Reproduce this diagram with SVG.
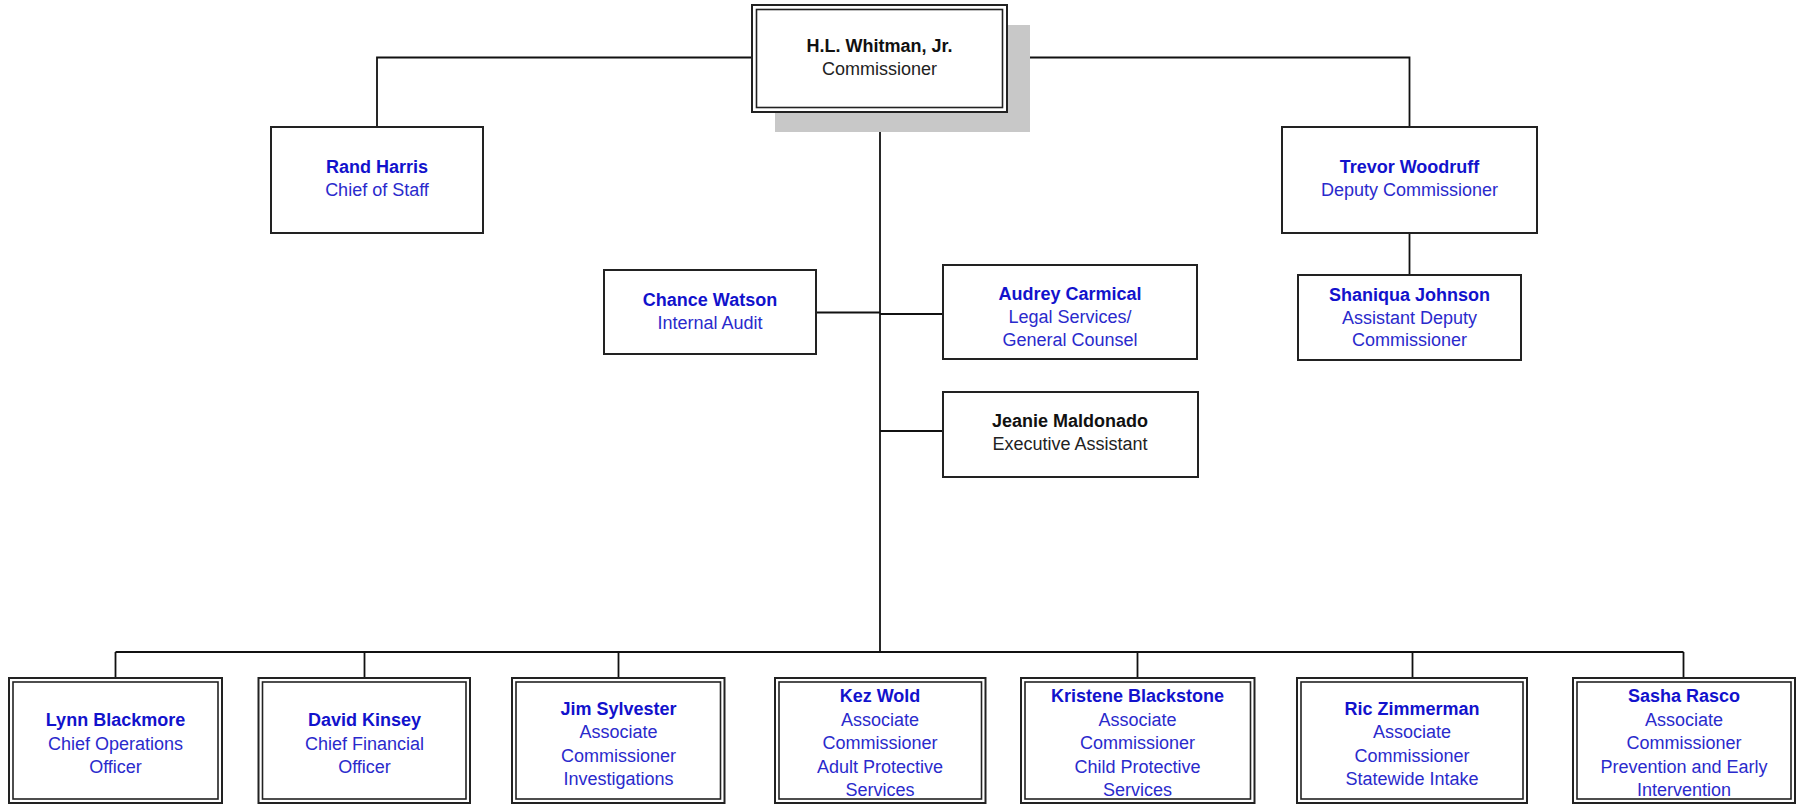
<svg xmlns="http://www.w3.org/2000/svg" width="1799" height="804" viewBox="0 0 1799 804">
<style>
  .box { fill: #ffffff; stroke: #222222; stroke-width: 2; }
  .dbl { fill: none; stroke: #222222; stroke-width: 1.6; }
  .conn { fill: none; stroke: #111111; stroke-width: 1.8; }
  text { font-family: "Liberation Sans", Arial, sans-serif; font-size: 18px; text-anchor: middle; }
  .nm { font-weight: bold; fill: #1212cc; }
  .tt { fill: #2a2acc; }
  .nmk { font-weight: bold; fill: #111111; }
  .ttk { fill: #222222; }
</style>
<rect width="1799" height="804" fill="#ffffff"/>

<g id="connectors">
  <polyline class="conn" points="752,57.5 377,57.5 377,127"/>
  <polyline class="conn" points="1007,57.5 1409.5,57.5 1409.5,127"/>
  <line class="conn" x1="1409.5" y1="233" x2="1409.5" y2="275"/>
  <line class="conn" x1="880" y1="112" x2="880" y2="652"/>
  <line class="conn" x1="816" y1="312.5" x2="880" y2="312.5"/>
  <line class="conn" x1="880" y1="314" x2="943" y2="314"/>
  <line class="conn" x1="880" y1="431" x2="943" y2="431"/>
  <line class="conn" x1="115.5" y1="652" x2="1683.5" y2="652"/>
  <line class="conn" x1="115.5" y1="652" x2="115.5" y2="678"/>
  <line class="conn" x1="364.5" y1="652" x2="364.5" y2="678"/>
  <line class="conn" x1="618.5" y1="652" x2="618.5" y2="678"/>
  <line class="conn" x1="1137.5" y1="652" x2="1137.5" y2="678"/>
  <line class="conn" x1="1412.5" y1="652" x2="1412.5" y2="678"/>
  <line class="conn" x1="1683.5" y1="652" x2="1683.5" y2="678"/>
</g>

<g id="commissioner">
  <rect x="775" y="25" width="255" height="107" fill="#c8c8c8"/>
  <rect class="box" x="752" y="5" width="255" height="107" stroke-width="1.6"/>
  <rect class="dbl" x="756.5" y="9.5" width="246" height="98"/>
  <text class="nmk" x="879.5" y="52">H.L. Whitman, Jr.</text>
  <text class="ttk" x="879.5" y="75">Commissioner</text>
</g>

<g id="rand-harris">
  <rect class="box" x="271" y="127" width="212" height="106"/>
  <text class="nm" x="377" y="173">Rand Harris</text>
  <text class="tt" x="377" y="196">Chief of Staff</text>
</g>

<g id="trevor-woodruff">
  <rect class="box" x="1282" y="127" width="255" height="106"/>
  <text class="nm" x="1409.5" y="173">Trevor Woodruff</text>
  <text class="tt" x="1409.5" y="196">Deputy Commissioner</text>
</g>

<g id="shaniqua-johnson">
  <rect class="box" x="1298" y="275" width="223" height="85"/>
  <text class="nm" x="1409.5" y="300.5">Shaniqua Johnson</text>
  <text class="tt" x="1409.5" y="323.5">Assistant Deputy</text>
  <text class="tt" x="1409.5" y="346">Commissioner</text>
</g>

<g id="chance-watson">
  <rect class="box" x="604" y="270" width="212" height="84"/>
  <text class="nm" x="710" y="306">Chance Watson</text>
  <text class="tt" x="710" y="329">Internal Audit</text>
</g>

<g id="audrey-carmical">
  <rect class="box" x="943" y="265" width="254" height="94"/>
  <text class="nm" x="1070" y="300">Audrey Carmical</text>
  <text class="tt" x="1070" y="323">Legal Services/</text>
  <text class="tt" x="1070" y="346">General Counsel</text>
</g>

<g id="jeanie-maldonado">
  <rect class="box" x="943" y="392" width="255" height="85"/>
  <text class="nmk" x="1070" y="426.5">Jeanie Maldonado</text>
  <text class="ttk" x="1070" y="449.5">Executive Assistant</text>
</g>

<g id="lynn-blackmore">
  <rect class="box" x="9" y="678" width="213" height="125" stroke-width="1.6"/>
  <rect class="dbl" x="13" y="682" width="205" height="117"/>
  <text class="nm" x="115.5" y="726">Lynn Blackmore</text>
  <text class="tt" x="115.5" y="749.5">Chief Operations</text>
  <text class="tt" x="115.5" y="773">Officer</text>
</g>

<g id="david-kinsey">
  <rect class="box" x="258.5" y="678" width="211.5" height="125" stroke-width="1.6"/>
  <rect class="dbl" x="262.5" y="682" width="203.5" height="117"/>
  <text class="nm" x="364.5" y="726">David Kinsey</text>
  <text class="tt" x="364.5" y="749.5">Chief Financial</text>
  <text class="tt" x="364.5" y="773">Officer</text>
</g>

<g id="jim-sylvester">
  <rect class="box" x="512" y="678" width="212.5" height="125" stroke-width="1.6"/>
  <rect class="dbl" x="516" y="682" width="204.5" height="117"/>
  <text class="nm" x="618.5" y="715">Jim Sylvester</text>
  <text class="tt" x="618.5" y="738">Associate</text>
  <text class="tt" x="618.5" y="761.5">Commissioner</text>
  <text class="tt" x="618.5" y="785">Investigations</text>
</g>

<g id="kez-wold">
  <rect class="box" x="775" y="678" width="210.5" height="125" stroke-width="1.6"/>
  <rect class="dbl" x="779" y="682" width="202.5" height="117"/>
  <text class="nm" x="880" y="702">Kez Wold</text>
  <text class="tt" x="880" y="725.5">Associate</text>
  <text class="tt" x="880" y="749">Commissioner</text>
  <text class="tt" x="880" y="772.5">Adult Protective</text>
  <text class="tt" x="880" y="796">Services</text>
</g>

<g id="kristene-blackstone">
  <rect class="box" x="1021" y="678" width="233.5" height="125" stroke-width="1.6"/>
  <rect class="dbl" x="1025" y="682" width="225.5" height="117"/>
  <text class="nm" x="1137.5" y="702">Kristene Blackstone</text>
  <text class="tt" x="1137.5" y="725.5">Associate</text>
  <text class="tt" x="1137.5" y="749">Commissioner</text>
  <text class="tt" x="1137.5" y="772.5">Child Protective</text>
  <text class="tt" x="1137.5" y="796">Services</text>
</g>

<g id="ric-zimmerman">
  <rect class="box" x="1297" y="678" width="230" height="125" stroke-width="1.6"/>
  <rect class="dbl" x="1301" y="682" width="222" height="117"/>
  <text class="nm" x="1412" y="715">Ric Zimmerman</text>
  <text class="tt" x="1412" y="738">Associate</text>
  <text class="tt" x="1412" y="761.5">Commissioner</text>
  <text class="tt" x="1412" y="785">Statewide Intake</text>
</g>

<g id="sasha-rasco">
  <rect class="box" x="1573" y="678" width="222" height="125" stroke-width="1.6"/>
  <rect class="dbl" x="1577" y="682" width="214" height="117"/>
  <text class="nm" x="1684" y="702">Sasha Rasco</text>
  <text class="tt" x="1684" y="725.5">Associate</text>
  <text class="tt" x="1684" y="749">Commissioner</text>
  <text class="tt" x="1684" y="772.5">Prevention and Early</text>
  <text class="tt" x="1684" y="796">Intervention</text>
</g>
</svg>
